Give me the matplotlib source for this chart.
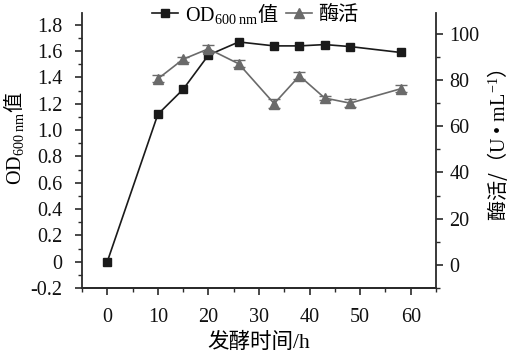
import matplotlib
matplotlib.use("Agg")
import matplotlib.pyplot as plt
from matplotlib.ticker import MultipleLocator, FixedLocator

plt.rcParams['font.family'] = ['Liberation Serif', 'Noto Sans CJK SC']
plt.rcParams['mathtext.fontset'] = 'custom'
plt.rcParams['mathtext.rm'] = 'Liberation Serif'
plt.rcParams['mathtext.it'] = 'Liberation Serif:italic'
plt.rcParams['mathtext.sf'] = 'Noto Sans CJK SC'
plt.rcParams['axes.unicode_minus'] = False

# data
od_time = [0, 10, 15, 20, 26, 33, 38, 43, 48, 58]
od_value = [0.0, 1.12, 1.31, 1.57, 1.67, 1.64, 1.64, 1.65, 1.635, 1.59]
enz_time = [10, 15, 20, 26, 33, 38, 43, 48, 58]
enz_value = [80.5, 89.0, 93.5, 87.0, 69.8, 81.8, 72.2, 70.0, 76.2]
enz_err = [1.5, 1.0, 1.5, 1.5, 2.0, 1.5, 1.0, 1.8, 1.5]

x_ticks = [0, 10, 20, 30, 40, 50, 60]
left_ticks = [-0.2, 0, 0.2, 0.4, 0.6, 0.8, 1.0, 1.2, 1.4, 1.6, 1.8]
left_labels = ['-0.2', '0', '0.2', '0.4', '0.6', '0.8', '1.0', '1.2', '1.4', '1.6', '1.8']
right_ticks = [0, 20, 40, 60, 80, 100]

od_label = r'OD$_{\mathregular{600\ nm}}$$\mathsf{值}$'
enz_label = '酶活'
x_label = '发酵时间/h'
right_label = r'$\mathsf{酶活/（}$U • mL$^{\mathregular{-1}}$$\mathsf{）}$'

fs = 14.5
dark = '#2a2a2a'
gray = '#6a6a6a'

fig = plt.figure(figsize=(5.12, 3.59), dpi=100)
ax = fig.add_axes([82/512, 1-288/359, (436-82)/512, (288-13)/359])
ax2 = ax.twinx()

l1, = ax.plot(od_time, od_value, color='#1a1a1a', lw=1.2, marker='s', ms=6,
              mfc='#1a1a1a', mec='#1a1a1a', zorder=3)
l2 = ax2.errorbar(enz_time, enz_value, yerr=enz_err, color=gray, lw=1.2, marker='^',
                  ms=7.5, mfc=gray, mec=gray, ecolor=gray, elinewidth=1.0, capsize=4.5,
                  capthick=1.0, zorder=2)

ax.set_xlim(-5, 65)
ax.set_ylim(-0.2, 1.89)
ax2.set_ylim(-10, 109)

ax.xaxis.set_major_locator(FixedLocator(x_ticks))
ax.xaxis.set_minor_locator(MultipleLocator(5))
ax.yaxis.set_major_locator(FixedLocator(left_ticks))
ax.set_yticklabels(left_labels)
ax.yaxis.set_minor_locator(MultipleLocator(0.1))
ax2.yaxis.set_major_locator(FixedLocator(right_ticks))
ax2.yaxis.set_minor_locator(MultipleLocator(10))

for a in (ax, ax2):
    a.spines['top'].set_visible(False)
    for s in a.spines.values():
        s.set_color(dark)
        s.set_linewidth(1.3)
    a.tick_params(which='major', direction='out', length=5, width=1.2, colors=dark,
                  labelsize=fs, labelcolor='#111111')
    a.tick_params(which='minor', direction='out', length=3, width=1.0, colors=dark)
ax.tick_params(axis='y', which='major', pad=9)
ax.tick_params(axis='x', which='major', pad=9.5)
ax2.tick_params(axis='y', which='major', pad=4.5)
ax2.spines['left'].set_visible(False)
ax.spines['right'].set_visible(False)

ax.set_xlabel(x_label, fontsize=15.5, labelpad=4)
ax.set_ylabel(od_label, fontsize=fs)
ax.yaxis.set_label_coords(-0.158, 0.545)
ax2.set_ylabel(right_label, fontsize=fs)
ax2.yaxis.set_label_coords(1.138, 0.52)

leg = ax.legend([l1, l2[0]], [od_label, enz_label], loc='center', bbox_to_anchor=(0.49, 1.0),
                ncol=2, frameon=False, fontsize=fs, handlelength=1.3, handletextpad=0.3,
                columnspacing=0.4, borderaxespad=0)

fig.savefig('out.png', dpi=100)
